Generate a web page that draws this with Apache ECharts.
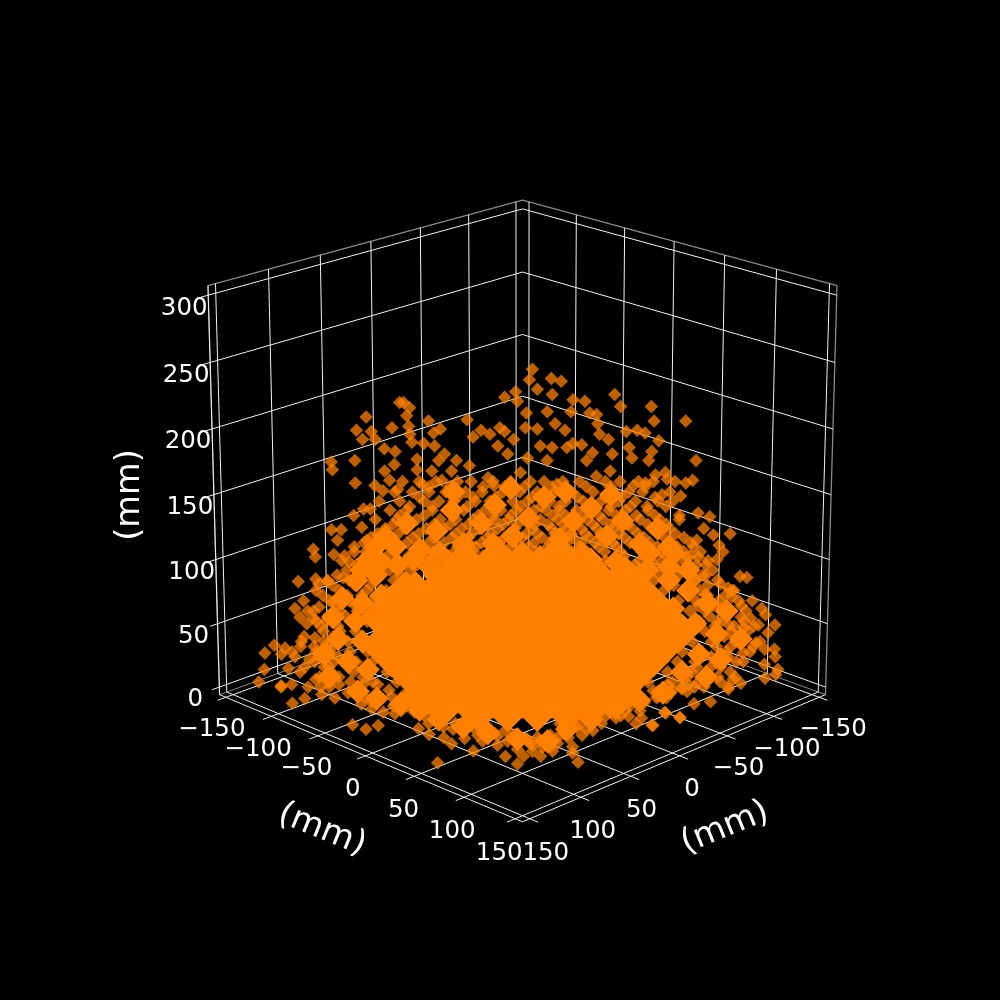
<!DOCTYPE html>
<html><head><meta charset="utf-8">
<style>html,body{margin:0;background:#000}#c{width:1000px;height:1000px}</style>
<script src="https://cdn.jsdelivr.net/npm/echarts@6/dist/echarts.min.js"></script></head>
<body><div id="c"></div>
<script>
const xyTicks=[-150,-100,-50,0,50,100,150];
const zTicks=[0,50,100,150,200,250,300];
const axisLabel='(mm)';
// scattered points: [across (y-x), height z] in mm
const wallPoints=[[10,245],[7,237],[15,230],[29,238],[39,236],[30,226],[-7,228],[-18,224],[-5,221],[51,222],[63,221],[93,226],[99,217],[130,217],[49,213],[68,212],[75,211],[76,204],[133,206],[165,206],[-56,207],[-95,206],[-114,216],[-120,220],[-117,210],[-115,202],[-83,200],[-90,197],[-114,196],[4,212],[25,213],[78,196],[87,192],[105,198],[116,199],[124,197],[138,191],[176,176],[173,161],[166,159],[147,162],[125,159],[135,165],[-42,199],[-33,196],[-23,201],[-18,198],[-9,192],[3,201],[15,200],[33,204],[43,199],[51,189],[60,188],[71,182],[91,181],[108,186],[131,183],[-112,190],[-100,189],[-89,187],[-79,181],[-107,177],[-67,176],[-107,169],[-85,176],[-72,168],[-54,172],[-35,163],[-29,157],[5,178],[-2,167],[25,176],[35,158],[75,164],[89,168],[111,178],[128,176],[145,167],[113,157],[-102,158],[-82,161],[-92,168],[-50,194],[-25,187],[-15,181],[18,187],[30,186],[45,186],[65,176],
[-158,209],[-168,199],[-153,198],[-162,192],[-132,201],[-149,192],[-140,185],[-129,183],[-194,175],[-193,169],[-170,176],[-170,159],[-150,157],[-130,173],[-140,168],[-135,161],[-124,220],[-142,153],[-127,154],
[-172,134],[-162,139],[-155,139],[-164,125],[-195,123],[-185,123],[-189,115],[-214,108],[-212,102],[-193,104],[-172,110],[-159,115],[-160,106],[-177,98],[-184,86],[-230,83],[-212,85],[-209,81],[-200,83],[-225,68],[-234,62],[-221,60],[-229,55],[-222,50],[-209,63],[-195,67],[-215,54],[-202,52],[-214,39],[-229,32],[-256,33],[-266,27],[-245,31],[-249,26],[-213,28],[-202,33],[-267,14],[-273,4],[-242,15],[-230,12],[-220,22],[-250,1],[-250,0],[-239,2],[-222,0],[-214,6],[-195,9],[-200,16],[-209,0],[-200,0],
[142,150],[153,145],[161,149],[179,136],[191,133],[160,131],[212,120],[185,124],[195,119],[178,115],[201,111],[175,110],[205,106],[199,100],[188,96],[180,102],[168,102],[188,88],[223,87],[230,86],[203,81],[211,78],[217,76],[215,71],[178,85],[236,68],[246,62],[250,57],[260,49],[225,55],[235,54],[243,49],[253,43],[241,35],[228,47],[205,62],[188,73],[213,49],[200,52],[250,30],[260,30],[261,24],[228,27],[250,18],[264,14],[262,10],[251,7],[221,20],[196,17],[202,8],[218,6],[226,3],[213,0],[178,0],[164,0],[188,0]];
// points in front of the centre plane: [across (y-x), forward (x+y)] in mm, on the floor
const floorPoints=[[-224,30],[-236,43],[-193,29],[-207,20],[-172,98],[-158,110],[-146,100],[-154,57],[-142,66],[-162,27],[-132,50],[153,16],[176,44],[193,39],[145,66],[160,80],[132,100],[140,11],
[-84,193],[-49,164],[-71,146],[-58,133],[-17,178],[1,177],[-5,196],[18,177],[28,154],[8,146],[-7,123],[-25,127],[-79,131],[-94,123],[-105,108],[-80,104],[-124,62],[-110,66],[-17,112],[-35,119],[35,131],
[55,192],[50,169],[50,154],[30,165],[10,150],[3,131],[46,131],[71,113],[131,99],[146,68],[160,80],[115,96],[121,81],[108,77],[95,81],[18,138],[58,96],[38,96],[138,28],[213,5],[165,5],
[-180,15],[-165,45],[-145,30],[-130,70],[-110,60],[-125,35],[-95,95],[-80,85],[-70,110],[-60,100],[-45,125],[-40,140],[-25,150],[-15,140],[-5,160],[10,165],[20,155],[35,145],[65,110],[80,95],[95,60],[110,50],[125,40],[140,25],[155,8],[170,12],[-100,75],[-150,20],[100,75],[85,75],[60,125],
[-170,25],[-155,38],[-135,25],[-118,50],[-112,40],[-98,55],[-90,70],[-75,72],[-68,95],[-55,85],[-50,105],[-35,105],[-28,120],[-10,128],[5,140],[15,130],[28,125],[42,120],[55,105],[72,90],[88,60],[105,40],[118,30],[135,10],[148,28],[120,62],[-138,8],[-120,15],[105,62],[70,70],[-85,45]];
// denser middle band: heights (mm) and the across values seen at each height
const midHeights=[160,152,145,138,131,124,117,110,103,96,88,80,72,64,56,48,40,32,24,16,8,2,
156,148,141,134,127,120,113,106,99,92,84,76,68,60,52,44,36,28,20,12,4];
const midAcross=[
[-122,-105,-88,-66,-52,-30,-12,8,22,41,58,84,99,118,133,155],
[-130,-112,-95,-78,-58,-41,-20,-3,15,33,50,72,91,108,122,150],
[-146,-125,-100,-85,-70,-48,-33,-10,5,28,44,62,80,98,115,138],
[-135,-118,-92,-76,-60,-38,-22,-6,12,24,38,55,70,88,105,128],
[-150,-128,-108,-84,-68,-50,-28,-14,2,18,36,48,66,82,100,120,140],
[-140,-120,-98,-80,-62,-44,-25,-8,10,30,46,60,76,92,112,132,150],
[-155,-134,-112,-90,-72,-55,-36,-18,0,20,35,52,68,86,104,124,145,165],
[-145,-125,-104,-86,-66,-48,-30,-12,6,26,42,58,78,96,118,138,158],
[-182,-160,-138,-116,-96,-76,-58,-40,104,125,148,172],
[-170,-150,-128,-108,115,135,155,178],
[-190,-165,-145,-125,140,160,185],
[-195,-172,-155,155,172,190],
[-205,-180,-165,170,190,208],
[-190,-172,180,196,225],
[-200,-182,192,210],
[-208,-190,198,218,238],
[-225,-195,208,224],
[-215,-195,200,215,238],
[-235,-210,-190,195,212],
[-225,-205,-180,180,205],
[-210,-190,-165,170,195,220],
[-190,-165,-150,150,172],
[-95,-74,-40,-18,2,30,65,90,125],
[-105,-66,-50,-27,10,24,56,85,101,135],
[-115,-92,-56,-28,-2,19,37,66,90,110,127,146],
[-125,-100,-70,-45,-30,-12,5,31,44,62,78,96,116,135,160],
[-132,-115,-90,-74,-55,-35,-20,-5,12,26,42,54,72,90,107,128,147],
[-148,-127,-106,-88,-68,-52,-32,-14,4,15,33,50,64,80,98,118,138,156],
[-162,-140,-118,-96,-80,-60,-42,-24,-6,12,28,45,60,74,92,110,130,152,172],
[-172,-152,-130,-110,-92,-70,-50,-34,-18,-4,14,32,50,66,84,100,122,142,165,182],
[-185,-162,-140,-120,-98,-84,-72,72,85,100,120,142,165,190],
[-180,-158,-136,-115,110,130,150,172,195],
[-200,-178,-152,-132,-118,120,135,150,178,200],
[-212,-188,-160,-140,-125,128,145,165,182,215],
[-198,-178,-155,-142,140,160,178,202,222],
[-215,-188,-170,-152,155,172,188,205,230],
[-212,-195,-175,-160,165,182,205,228],
[-205,-188,-172,172,188,215,232],
[-228,-205,-180,-168,175,195,220,245],
[-238,-200,-178,-160,165,185,210,235],
[-215,-195,-172,-155,160,178,200,228],
[-198,-175,-158,-140,150,175,190,215],
[-178,-155,-130,130,155,182,205]];
// tight clusters, where several markers pile up: [across, height]
const wallClusters=[[-140,118],[-118,128],[-105,108],[-88,122],[-72,138],[-60,112],[-42,128],[-28,142],[-10,118],[6,132],[22,148],[38,116],[52,130],[70,140],[86,118],[102,130],[120,112],[138,124],[155,105],[-158,100],[-128,96],[-95,94],[-60,96],[-20,104],[18,102],[62,104],[95,98],[128,92],[170,92],[-12,155],[44,152],[-70,152],[90,150],
[-170,84],[-150,88],[-185,70],[-165,66],[-145,72],[-195,55],[-172,52],[-190,38],[-165,36],[-205,26],[-180,20],[-160,14],[-200,8],[-145,98],
[150,84],[170,76],[190,66],[155,62],[178,50],[200,42],[160,36],[182,26],[205,22],[165,12],[190,8],[150,94],[210,60],[225,38],
[-110,82],[-90,88],[95,85],[120,88],[-30,112],[40,108],[-85,105],[70,100],[-150,110],[-130,110],[-112,100],[-165,92],[130,105],[150,110]];
// the same on the floor: [across, forward]
const floorClusters=[[-150,30],[-125,45],[-105,60],[-85,85],[-60,105],[-35,120],[-5,135],[25,140],[45,110],[70,85],[95,55],[120,35],[145,15],[-170,12],[-115,25],[110,25],[-75,60],[80,50]];
// solid heart of the cloud, where single markers can no longer be told apart
const coreHeights=[101,90,78,67,55,44,33,21,10,0];
const coreAcross=[
[-60,-30,0,30,60],
[-75,-45,-15,15,45,75,105],
[-120,-90,-60,-30,0,30,60,90,120],
[-135,-105,-75,-45,-15,15,45,75,105,135],
[-150,-120,-90,-60,-30,0,30,60,90,120,150],
[-135,-105,-75,-45,-15,15,45,75,105,135,165],
[-150,-120,-90,-60,-30,0,30,60,90,120,150],
[-135,-105,-75,-45,-15,15,45,75,105,135],
[-120,-90,-60,-30,0,30,60,90,120],
[-105,-75,-45,-15,15,45,75,105]];
const coreForward=[39,73];
const coreFrontAcross=[
[-90,-60,-30,0,30,60,90],
[-45,-15,15,45]];
const labelShift=[-5,-3,0,0,3,3,0];

// camera
const LIM=157,ZMIN=-6,ZMAX=307,ZC=(ZMIN+ZMAX)/2;
const EL=20*Math.PI/180,C=Math.cos(EL),Sn=Math.sin(EL),D=2854,SC=1.39,CX=522.5,CY=494,R2=Math.SQRT1_2;
function project(x,y,z){
  const r=(y-x)*R2,f0=(x+y)*R2,Z=z-ZC;
  const up=Z*C-Sn*f0,dep=f0*C+Z*Sn,f=D/(D-dep);
  return [CX+SC*f*r,CY-SC*f*up];
}
const viewPoint=(across,forward,h)=>project((forward-across)/2,(forward+across)/2,h);

const series=[];
function poly(pts,color,width){
  series.push({type:'line',data:pts.map(p=>project(p[0],p[1],p[2])),showSymbol:false,silent:true,animation:false,z:1,
    lineStyle:{color:color,width:width,opacity:1},itemStyle:{opacity:0}});
}
const GRID='#f2f2f2',EDGE='#8a8a8a',TICK=8;
// panes
poly([[LIM,-LIM,ZMIN],[LIM,-LIM,ZMAX],[-LIM,-LIM,ZMAX],[-LIM,LIM,ZMAX],[-LIM,LIM,ZMIN]],EDGE,1.3);
poly([[LIM,-LIM,ZMIN],[-LIM,-LIM,ZMIN],[-LIM,LIM,ZMIN]],EDGE,1);
// grid
xyTicks.forEach(t=>{
  poly([[t,LIM+TICK,ZMIN],[t,-LIM,ZMIN],[t,-LIM,ZMAX]],GRID,1);
  poly([[LIM+TICK,t,ZMIN],[-LIM,t,ZMIN],[-LIM,t,ZMAX]],GRID,1);
});
zTicks.forEach(t=>poly([[LIM+7,-LIM,t],[-LIM,-LIM,t],[-LIM,LIM,t]],GRID,1));
// axis lines
poly([[LIM,-LIM,ZMIN],[LIM,LIM,ZMIN],[-LIM,LIM,ZMIN]],GRID,1);
poly([[LIM,-LIM,ZMIN],[LIM,-LIM,ZMAX]],GRID,1);

// points
const scatterData=[];
wallPoints.forEach(p=>scatterData.push(viewPoint(p[0],0,p[1])));
floorPoints.forEach(p=>scatterData.push(viewPoint(p[0],p[1],0)));
midHeights.forEach((h,i)=>midAcross[i].forEach(a=>scatterData.push(viewPoint(a,0,h))));
const clusterData=[];
wallClusters.forEach(p=>clusterData.push(viewPoint(p[0],0,p[1])));
floorClusters.forEach(p=>clusterData.push(viewPoint(p[0],p[1],0)));
const coreData=[];
coreHeights.forEach((h,i)=>coreAcross[i].forEach(a=>coreData.push(viewPoint(a,0,h))));
coreForward.forEach((s,i)=>coreFrontAcross[i].forEach(a=>coreData.push(viewPoint(a,s,0))));
series.push({type:'scatter',data:coreData,symbol:'diamond',symbolSize:34,animation:false,silent:true,z:3,
  itemStyle:{color:'#ff8000',opacity:1}});
series.push({type:'scatter',data:clusterData,symbol:'diamond',symbolSize:24,animation:false,silent:true,z:3,
  itemStyle:{color:'#ff8000',opacity:1}});
series.push({type:'scatter',data:scatterData,symbol:'diamond',symbolSize:13.5,animation:false,silent:true,z:4,
  itemStyle:{color:'#ff8000',opacity:0.75}});

// text
function texts(items,fs){
  series.push({type:'scatter',symbolSize:1,animation:false,silent:true,z:5,
    data:items.map(t=>({value:t.p,label:{formatter:t.s,rotate:t.r||0}})),
    label:{show:true,position:'inside',color:'#fff',opacity:1,fontSize:fs,fontFamily:'DejaVu Sans',align:'center',verticalAlign:'middle'},
    itemStyle:{color:'rgba(0,0,0,0)',opacity:1}});
}
const fmt=t=>String(t).replace('-','\u2212');
const tickText=[];
zTicks.forEach(t=>{const b=project(LIM,-LIM,t);tickText.push({p:[b[0]-24,b[1]+13],s:fmt(t)});});
xyTicks.forEach((t,i)=>{
  const k=(t+150)/300,dx=-9-7*k+labelShift[i],dy=32.5+2*k;
  const a=project(LIM,t,ZMIN),b=project(t,LIM,ZMIN);
  tickText.push({p:[a[0]+dx,a[1]+dy],s:fmt(t)});
  tickText.push({p:[b[0]-dx,b[1]+dy],s:fmt(t)});
});
texts(tickText,24.5);
texts([{p:[322,830],s:axisLabel,r:-22},{p:[725,828],s:axisLabel,r:22},{p:[130,495],s:axisLabel,r:90}],33.5);

const chart=echarts.init(document.getElementById('c'),null,{renderer:'canvas'});
chart.setOption({backgroundColor:'#000',animation:false,
  grid:{left:0,right:0,top:0,bottom:0},
  xAxis:{type:'value',min:0,max:1000,show:false},
  yAxis:{type:'value',min:0,max:1000,inverse:true,show:false},
  series:series});
</script></body></html>
